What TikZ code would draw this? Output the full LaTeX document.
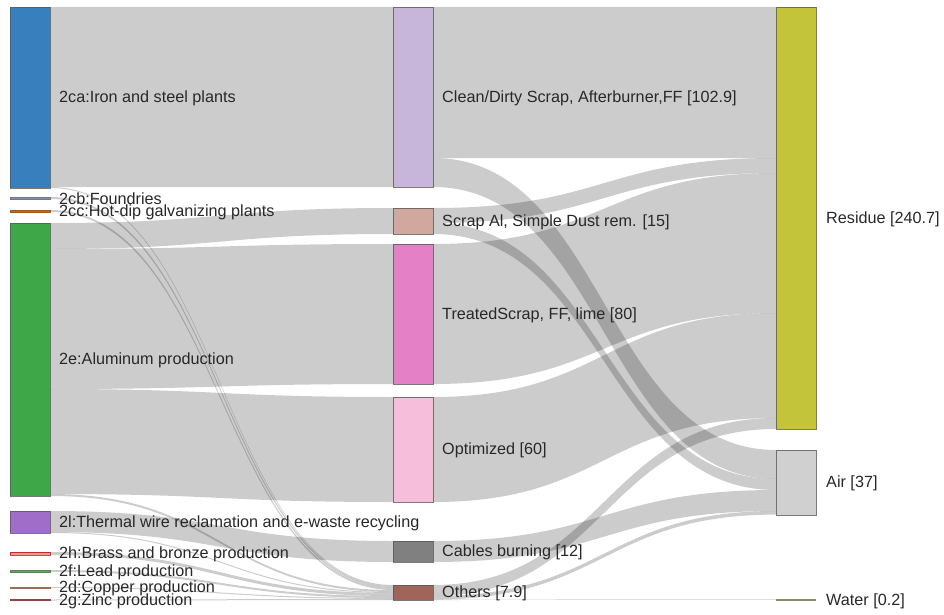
\documentclass[tikz,border=0pt]{standalone}
\usepackage{fontspec}
\setmainfont{Liberation Sans}
\pgfdeclarelayer{bg}
\pgfsetlayers{bg,main}
\definecolor{c2ca}{RGB}{55,128,189}
\definecolor{c2cb}{RGB}{130,145,165}
\definecolor{c2cc}{RGB}{190,105,40}
\definecolor{c2e}{RGB}{62,168,72}
\definecolor{c2l}{RGB}{160,110,200}
\definecolor{c2h}{RGB}{240,150,150}
\definecolor{c2f}{RGB}{100,160,100}
\definecolor{c2d}{RGB}{180,130,110}
\definecolor{c2g}{RGB}{170,80,80}
\definecolor{cClean}{RGB}{200,182,218}
\definecolor{cScrap}{RGB}{208,168,158}
\definecolor{cTreat}{RGB}{228,128,198}
\definecolor{cOpt}{RGB}{246,190,218}
\definecolor{cCable}{RGB}{128,128,128}
\definecolor{cOthers}{RGB}{160,100,88}
\definecolor{cRes}{RGB}{196,196,58}
\definecolor{cAir}{RGB}{208,208,208}
\definecolor{cWater}{RGB}{140,140,100}
\definecolor{txt}{RGB}{40,40,40}
\newcommand\band[6]{%
  \fill[bandfill] ([yshift=-#2pt]#1.north east)
    .. controls +(171.5,0) and +(-171.5,0) .. ([yshift=-#5pt]#4.north west)
    -- ([yshift=-#6pt]#4.north west)
    .. controls +(-171.5,0) and +(171.5,0) .. ([yshift=-#3pt]#1.north east)
    -- cycle;}
\begin{document}
\begin{tikzpicture}[x=1pt,y=-1pt,
  nd/.style={draw=black!65,draw opacity=0.8,line width=0.6pt,inner sep=0pt,outer sep=0pt,
    minimum width=40pt,anchor=north west},
  thin/.style={draw=#1!85!black,draw opacity=1,fill=#1},
  lbl/.style={font=\fontsize{16.2}{19}\selectfont,text=txt,inner sep=0pt,anchor=west,yshift=-1.2pt},
  bandfill/.style={fill=black,fill opacity=0.2},
  label distance=9pt]
\useasboundingbox (0,0) rectangle (944,615);
% left column
\node[nd,fill=c2ca,minimum height=181pt,label={[lbl]right:{2ca:Iron and steel plants}}] (n2ca) at (10,7) {};
\node[nd,thin=c2cb,minimum height=2pt,label={[lbl]right:{2cb:Foundries}}] (n2cb) at (10,197) {};
\node[nd,thin=c2cc,minimum height=2pt,label={[lbl]right:{2cc:Hot-dip galvanizing plants}}] (n2cc) at (10,210) {};
\node[nd,fill=c2e,minimum height=273pt,label={[lbl]right:{2e:Aluminum production}}] (n2e) at (10,223) {};
\node[nd,fill=c2l,minimum height=22pt,label={[lbl]right:{2l:Thermal wire reclamation and e-waste recycling}}] (n2l) at (10,511) {};
\node[nd,fill=c2h,draw=red!70!black,draw opacity=0.7,minimum height=3pt,label={[lbl]right:{2h:Brass and bronze production}}] (n2h) at (10,552) {};
\node[nd,thin=c2f,minimum height=2pt,label={[lbl]right:{2f:Lead production}}] (n2f) at (10,570) {};
\node[nd,thin=c2d,minimum height=1pt,label={[lbl]right:{2d:Copper production}}] (n2d) at (10,587) {};
\node[nd,thin=c2g,minimum height=1pt,label={[lbl]right:{2g:Zinc production}}] (n2g) at (10,599.5) {};
% middle column
\node[nd,fill=cClean,minimum height=180pt,label={[lbl]right:{Clean/Dirty Scrap, Afterburner,FF [102.9]}}] (nClean) at (393,7) {};
\node[nd,fill=cScrap,minimum height=26pt,label={[lbl]right:{Scrap Al, Simple Dust rem. [15]}}] (nScrap) at (393,208) {};
\node[nd,fill=cTreat,minimum height=140pt,label={[lbl]right:{TreatedScrap, FF, lime [80]}}] (nTreat) at (393,244) {};
\node[nd,fill=cOpt,minimum height=105pt,label={[lbl]right:{Optimized [60]}}] (nOpt) at (393,397) {};
\node[nd,fill=cCable,minimum height=21pt,label={[lbl]right:{Cables burning [12]}}] (nCab) at (393,541) {};
\node[nd,fill=cOthers,minimum height=15pt,label={[lbl]right:{Others [7.9]}}] (nOth) at (393,585) {};
% right column
\node[nd,fill=cRes,minimum height=422pt,label={[lbl,label distance=10pt]right:{Residue [240.7]}}] (nRes) at (776,7) {};
\node[nd,fill=cAir,minimum height=65pt,label={[lbl,label distance=10pt]right:{Air [37]}}] (nAir) at (776,450) {};
\node[nd,draw=none,fill=cWater,minimum height=1.5pt,label={[lbl,label distance=10pt]right:{Water [0.2]}}] (nWat) at (776,599.3) {};
\begin{pgfonlayer}{bg}
% left -> middle
\band{n2ca}{0}{180}{nClean}{0}{180}
\band{n2ca}{180}{181}{nOth}{0}{1}
\band{n2cb}{0}{2}{nOth}{1}{3}
\band{n2cc}{0}{2}{nOth}{3}{5}
\band{n2e}{0}{26}{nScrap}{0}{26}
\band{n2e}{26}{166}{nTreat}{0}{140}
\band{n2e}{166}{271}{nOpt}{0}{105}
\band{n2e}{271}{273}{nOth}{5}{7}
\band{n2l}{0}{21}{nCab}{0}{21}
\band{n2l}{21}{22}{nOth}{7}{8}
\band{n2h}{0}{3}{nOth}{8}{11}
\band{n2f}{0}{2}{nOth}{11}{13}
\band{n2d}{0}{1}{nOth}{13}{14}
\band{n2g}{0}{1}{nOth}{14}{15}
% middle -> right
\band{nClean}{0}{151}{nRes}{0}{151}
\band{nClean}{151}{180}{nAir}{0}{29}
\band{nScrap}{0}{15}{nRes}{151}{166}
\band{nScrap}{15}{26}{nAir}{29}{40}
\band{nTreat}{0}{140}{nRes}{166}{306}
\band{nOpt}{0}{105}{nRes}{306}{411}
\band{nCab}{0}{21}{nAir}{40}{61}
\band{nOth}{0}{11}{nRes}{411}{422}
\band{nOth}{11}{14.6}{nAir}{61}{64.6}
\band{nOth}{14.6}{15}{nWat}{0}{0.6}
\end{pgfonlayer}
\end{tikzpicture}
\end{document}
